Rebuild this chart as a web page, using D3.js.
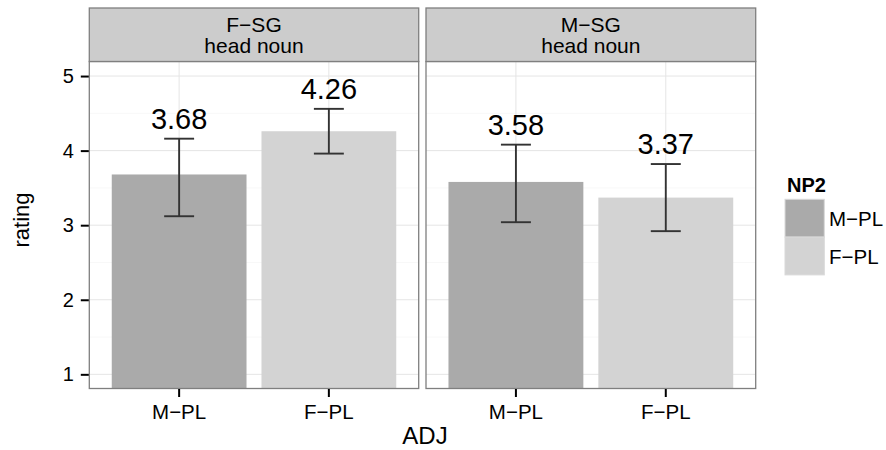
<!DOCTYPE html>
<html>
<head>
<meta charset="utf-8">
<script src="https://cdn.jsdelivr.net/npm/d3@7"></script>
<style>
  html, body { margin: 0; padding: 0; background: #fff; }
  svg { display: block; font-family: "Liberation Sans", Arial, Helvetica, sans-serif; }
</style>
</head>
<body>
<svg id="chart" width="886" height="450"></svg>
<script>
// ---- data ----
const facets = ["F−SG", "M−SG"];
const facetSub = "head noun";
const adjLevels = ["M−PL", "F−PL"];
const np2Levels = ["M−PL", "F−PL"];
const meansFSG = [3.68, 4.26];
const meansMSG = [3.58, 3.37];
const lowerFSG = [3.12, 3.96];
const lowerMSG = [3.04, 2.92];
const upperFSG = [4.16, 4.56];
const upperMSG = [4.08, 3.82];
const yTicks = [1, 2, 3, 4, 5];
const yMinor = [1.5, 2.5, 3.5, 4.5];
const fillColors = ["#aaaaaa", "#d3d3d3"];

const panelData = [
  { facet: facets[0], means: meansFSG, lower: lowerFSG, upper: upperFSG },
  { facet: facets[1], means: meansMSG, lower: lowerMSG, upper: upperMSG }
];

// ---- layout ----
const svg = d3.select("#chart");
const panelX = [[89.3, 418.7], [426, 755.7]];
const stripTop = 8, panelTop = 61.5, panelBottom = 388.5;

const y = d3.scaleLinear().domain([0.81, 5.195]).range([panelBottom, panelTop]);
const color = d3.scaleOrdinal().domain(np2Levels).range(fillColors);

panelData.forEach((pd, pi) => {
  const [x0, x1] = panelX[pi];
  const x = d3.scaleBand().domain(adjLevels).range([x0, x1])
    .paddingInner(0.1).paddingOuter(0.15);
  const g = svg.append("g");

  // panel background
  g.append("rect").attr("x", x0).attr("y", panelTop)
    .attr("width", x1 - x0).attr("height", panelBottom - panelTop)
    .attr("fill", "#fff");

  // minor grid
  g.selectAll(".minor").data(yMinor).enter().append("line")
    .attr("x1", x0).attr("x2", x1)
    .attr("y1", d => y(d)).attr("y2", d => y(d))
    .attr("stroke", "#f8f8f8").attr("stroke-width", 1);
  // major grid
  g.selectAll(".major").data(yTicks).enter().append("line")
    .attr("x1", x0).attr("x2", x1)
    .attr("y1", d => y(d)).attr("y2", d => y(d))
    .attr("stroke", "#e5e5e5").attr("stroke-width", 1);
  g.selectAll(".vmajor").data(adjLevels).enter().append("line")
    .attr("x1", d => x(d) + x.bandwidth() / 2).attr("x2", d => x(d) + x.bandwidth() / 2)
    .attr("y1", panelTop).attr("y2", panelBottom)
    .attr("stroke", "#e5e5e5").attr("stroke-width", 1);

  // bars
  const rows = adjLevels.map((a, i) => ({ adj: a, np2: np2Levels[i], mean: pd.means[i], lo: pd.lower[i], hi: pd.upper[i] }));
  g.selectAll(".bar").data(rows).enter().append("rect")
    .attr("x", d => x(d.adj)).attr("width", x.bandwidth())
    .attr("y", d => y(d.mean)).attr("height", d => y(y.domain()[0]) - y(d.mean))
    .attr("fill", d => color(d.np2));

  // error bars
  const capW = x.bandwidth() * 0.2 / 0.9;
  const eb = g.selectAll(".eb").data(rows).enter().append("g")
    .attr("stroke", "#333").attr("stroke-width", 1.9);
  eb.append("line")
    .attr("x1", d => x(d.adj) + x.bandwidth() / 2).attr("x2", d => x(d.adj) + x.bandwidth() / 2)
    .attr("y1", d => y(d.lo)).attr("y2", d => y(d.hi));
  eb.append("line")
    .attr("x1", d => x(d.adj) + x.bandwidth() / 2 - capW / 2).attr("x2", d => x(d.adj) + x.bandwidth() / 2 + capW / 2)
    .attr("y1", d => y(d.hi)).attr("y2", d => y(d.hi));
  eb.append("line")
    .attr("x1", d => x(d.adj) + x.bandwidth() / 2 - capW / 2).attr("x2", d => x(d.adj) + x.bandwidth() / 2 + capW / 2)
    .attr("y1", d => y(d.lo)).attr("y2", d => y(d.lo));

  // value labels
  g.selectAll(".lab").data(rows).enter().append("text")
    .attr("x", d => x(d.adj) + x.bandwidth() / 2)
    .attr("y", d => y(d.hi) - 10)
    .attr("text-anchor", "middle").attr("font-size", 29).attr("fill", "#000")
    .text(d => d.mean.toFixed(2));

  // panel border
  g.append("rect").attr("x", x0).attr("y", panelTop)
    .attr("width", x1 - x0).attr("height", panelBottom - panelTop)
    .attr("fill", "none").attr("stroke", "#7f7f7f").attr("stroke-width", 1.3);

  // strip
  g.append("rect").attr("x", x0).attr("y", stripTop)
    .attr("width", x1 - x0).attr("height", panelTop - stripTop)
    .attr("fill", "#cccccc").attr("stroke", "#7f7f7f").attr("stroke-width", 1.3);
  const cx = (x0 + x1) / 2;
  g.append("text").attr("x", cx).attr("y", 32.3).attr("text-anchor", "middle")
    .attr("font-size", 21).attr("fill", "#000").text(pd.facet);
  g.append("text").attr("x", cx).attr("y", 53.3).attr("text-anchor", "middle")
    .attr("font-size", 21).attr("fill", "#000").text(facetSub);

  // x axis
  const xAxis = d3.axisBottom(x).tickSize(8).tickPadding(7);
  const xa = g.append("g").attr("transform", `translate(0,${panelBottom + 0.5})`).call(xAxis);
  xa.select(".domain").remove();
  xa.selectAll(".tick line").attr("stroke", "#000").attr("stroke-width", 2);
  xa.selectAll(".tick text").attr("font-size", 20.5).attr("fill", "#000")
    .attr("font-family", "Liberation Sans, Arial, sans-serif");

  // y axis (left panel only)
  if (pi === 0) {
    const yAxis = d3.axisLeft(y).tickValues(yTicks).tickSize(8).tickPadding(7).tickFormat(d3.format("d"));
    const ya = g.append("g").attr("transform", `translate(${x0 - 0.5},0)`).call(yAxis);
    ya.select(".domain").remove();
    ya.selectAll(".tick line").attr("stroke", "#000").attr("stroke-width", 2);
    ya.selectAll(".tick text").attr("font-size", 20).attr("fill", "#000")
      .attr("font-family", "Liberation Sans, Arial, sans-serif");
  }
});

// axis titles
svg.append("text").attr("x", 425).attr("y", 444).attr("text-anchor", "middle")
  .attr("font-size", 24).attr("fill", "#000").text("ADJ");
svg.append("text").attr("transform", "translate(29,220) rotate(-90)")
  .attr("text-anchor", "middle").attr("font-size", 22).attr("fill", "#000").text("rating");

// legend
const lg = svg.append("g");
lg.append("text").attr("x", 787).attr("y", 191.7).attr("font-size", 20)
  .attr("font-weight", "bold").attr("fill", "#000").text("NP2");
const keyH = 37.8, keyTop = 199.3, keyX = 785, keyW = 39.3;
np2Levels.forEach((lvl, i) => {
  lg.append("rect").attr("x", keyX).attr("y", keyTop + i * keyH)
    .attr("width", keyW).attr("height", keyH)
    .attr("fill", color(lvl)).attr("stroke", "#d9d9d9").attr("stroke-width", 1);
  lg.append("text").attr("x", 829).attr("y", keyTop + i * keyH + keyH / 2 + 7.5)
    .attr("font-size", 20.5).attr("fill", "#000").text(lvl);
});
</script>
</body>
</html>
